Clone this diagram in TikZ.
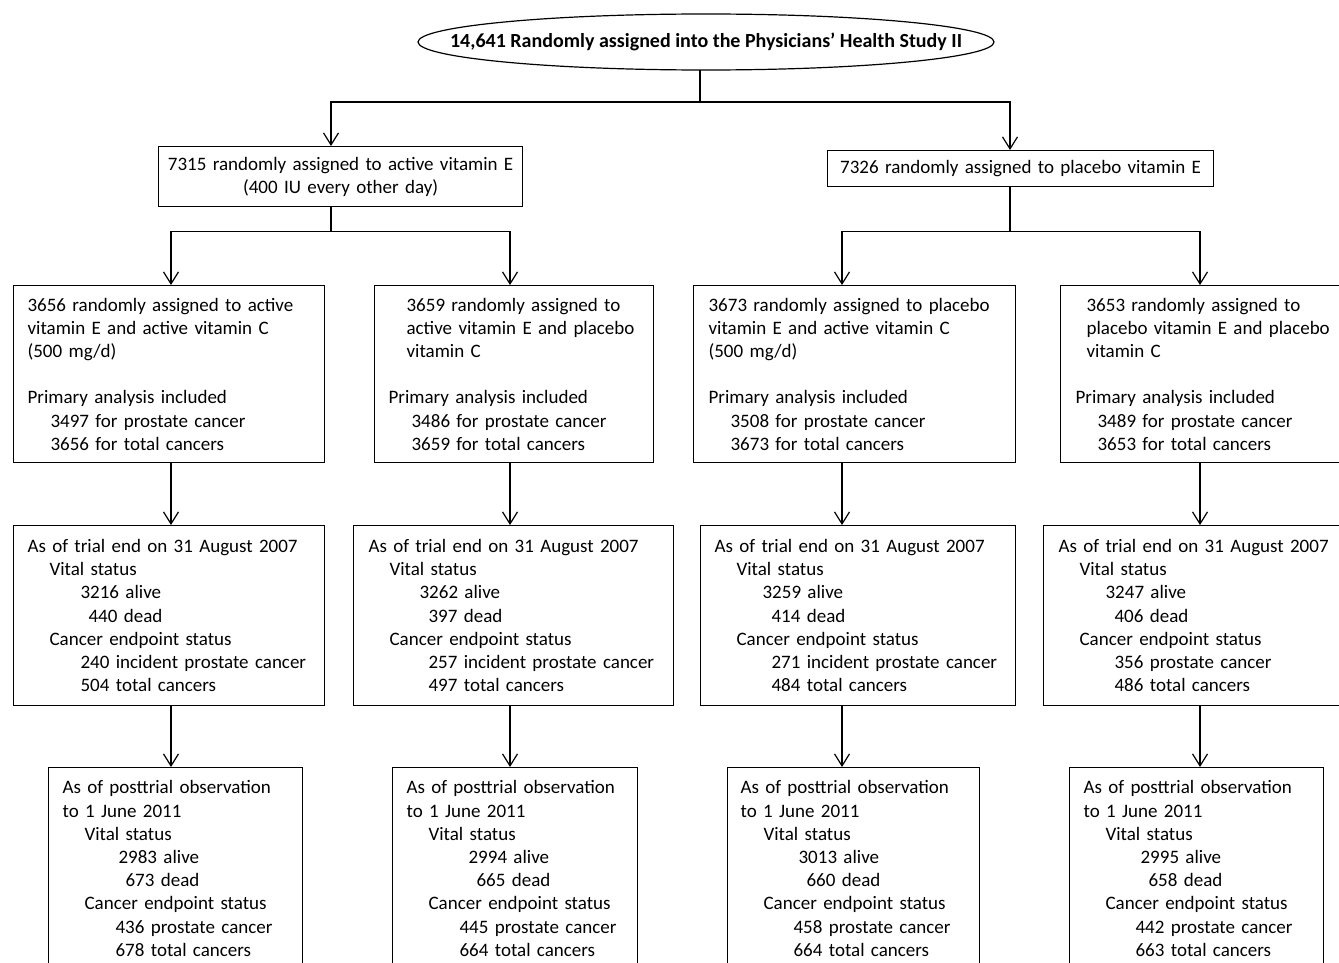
\documentclass[tikz,border=0pt]{standalone}
\usepackage{fontspec}
\setmainfont{Carlito}
\usetikzlibrary{arrows.meta}
\newcommand\indt[1]{\hspace*{#1pt}}

\begin{document}
\begin{tikzpicture}[x=1pt, y=-1pt,
    txt/.style={font=\fontsize{19}{23.2}\selectfont},
    box/.style={txt, draw, line width=1.2pt, inner sep=0pt, anchor=north west, align=left},
    link/.style={line width=1.2pt},
    arr/.style={link, -{Straight Barb[length=12pt, width=15pt]}}]

    \useasboundingbox (0,0) rectangle (1339,963);
    \clip (0,0) rectangle (1339,963);

    % columns of the connectors
    \coordinate (cE) at (331,0);
    \coordinate (cP) at (1010,0);
    \coordinate (c1) at (171,0);
    \coordinate (c2) at (510,0);
    \coordinate (c3) at (842,0);
    \coordinate (c4) at (1200,0);

    \node[txt, font=\fontsize{20}{24}\selectfont\bfseries] (rand) at (706,42) {14,641 Randomly assigned into the Physicians’ Health Study II};
    \draw[link] (rand.center) ellipse [x radius=288, y radius=28];

    \node[box, align=center, text width=364pt, minimum height=60pt] (vitE) at (158,146) {7315 randomly assigned to active vitamin E\\(400 IU every other day)};
    \node[box, align=center, text width=386pt, minimum height=36pt] (placE) at (827,150) {7326 randomly assigned to placebo vitamin E};

    \node[box, text width=311pt, minimum height=177pt] (eC) at (13,285) {\indt{14}3656 randomly assigned to active\\
        \indt{14}vitamin E and active vitamin C\\
        \indt{14}(500 mg/d)\\[23.2pt]
        \indt{14}Primary analysis included\\
        \indt{37}3497 for prostate cancer\\
        \indt{37}3656 for total cancers};
    \node[box, text width=279pt, minimum height=177pt] (eP) at (374,285) {\indt{32}3659 randomly assigned to\\
        \indt{32}active vitamin E and placebo\\
        \indt{32}vitamin C\\[23.2pt]
        \indt{14}Primary analysis included\\
        \indt{37}3486 for prostate cancer\\
        \indt{37}3659 for total cancers};
    \node[box, text width=322pt, minimum height=177pt] (pC) at (693,285) {\indt{15}3673 randomly assigned to placebo\\
        \indt{15}vitamin E and active vitamin C\\
        \indt{15}(500 mg/d)\\[23.2pt]
        \indt{15}Primary analysis included\\
        \indt{37}3508 for prostate cancer\\
        \indt{37}3673 for total cancers};
    \node[box, text width=285pt, minimum height=177pt] (pP) at (1060,285) {\indt{26}3653 randomly assigned to\\
        \indt{26}placebo vitamin E and placebo\\
        \indt{26}vitamin C\\[23.2pt]
        \indt{15}Primary analysis included\\
        \indt{37}3489 for prostate cancer\\
        \indt{37}3653 for total cancers};

    \node[box, text width=311pt, minimum height=180pt] (eCend) at (13,525) {\indt{14}As of trial end on 31 August 2007\\
        \indt{36}Vital status\\
        \indt{67}3216 alive\\
        \indt{75}440 dead\\
        \indt{36}Cancer endpoint status\\
        \indt{67}240 incident prostate cancer\\
        \indt{67}504 total cancers};
    \node[box, text width=320pt, minimum height=180pt] (ePend) at (353,525) {\indt{15}As of trial end on 31 August 2007\\
        \indt{36}Vital status\\
        \indt{66}3262 alive\\
        \indt{75}397 dead\\
        \indt{36}Cancer endpoint status\\
        \indt{75}257 incident prostate cancer\\
        \indt{75}497 total cancers};
    \node[box, text width=315pt, minimum height=180pt] (pCend) at (700,525) {\indt{14}As of trial end on 31 August 2007\\
        \indt{36}Vital status\\
        \indt{62}3259 alive\\
        \indt{71}414 dead\\
        \indt{36}Cancer endpoint status\\
        \indt{71}271 incident prostate cancer\\
        \indt{71}484 total cancers};
    \node[box, text width=302pt, minimum height=180pt] (pPend) at (1043,525) {\indt{15}As of trial end on 31 August 2007\\
        \indt{36}Vital status\\
        \indt{62}3247 alive\\
        \indt{71}406 dead\\
        \indt{36}Cancer endpoint status\\
        \indt{71}356 prostate cancer\\
        \indt{71}486 total cancers};

    \node[box, text width=254pt, minimum height=202pt] (eCpost) at (48,767) {\indt{14}As of posttrial observation\\
        \indt{14}to 1 June 2011\\
        \indt{36}Vital status\\
        \indt{70}2983 alive\\
        \indt{77}673 dead\\
        \indt{36}Cancer endpoint status\\
        \indt{67}436 prostate cancer\\
        \indt{67}678 total cancers};
    \node[box, text width=245pt, minimum height=202pt] (ePpost) at (392,767) {\indt{14}As of posttrial observation\\
        \indt{14}to 1 June 2011\\
        \indt{36}Vital status\\
        \indt{76}2994 alive\\
        \indt{84}665 dead\\
        \indt{36}Cancer endpoint status\\
        \indt{67}445 prostate cancer\\
        \indt{67}664 total cancers};
    \node[box, text width=252pt, minimum height=202pt] (pCpost) at (727,767) {\indt{13}As of posttrial observation\\
        \indt{13}to 1 June 2011\\
        \indt{36}Vital status\\
        \indt{71}3013 alive\\
        \indt{79}660 dead\\
        \indt{36}Cancer endpoint status\\
        \indt{66}458 prostate cancer\\
        \indt{66}664 total cancers};
    \node[box, text width=254pt, minimum height=202pt] (pPpost) at (1069,767) {\indt{14}As of posttrial observation\\
        \indt{14}to 1 June 2011\\
        \indt{36}Vital status\\
        \indt{71}2995 alive\\
        \indt{79}658 dead\\
        \indt{36}Cancer endpoint status\\
        \indt{66}442 prostate cancer\\
        \indt{66}663 total cancers};

    % split into the two vitamin E arms
    \coordinate (stem) at (700,70);
    \draw[link] (stem) -- ++(0,32) coordinate (j0);
    \draw[arr] (j0) -| (vitE.north -| cE);
    \draw[arr] (j0) -| (placE.north -| cP);

    % split into the vitamin C arms
    \draw[link] (vitE.south -| cE) -- ++(0,24) coordinate (jE);
    \draw[arr] (jE) -| (eC.north -| c1);
    \draw[arr] (jE) -| (eP.north -| c2);
    \draw[link] (placE.south -| cP) -- ++(0,44) coordinate (jP);
    \draw[arr] (jP) -| (pC.north -| c3);
    \draw[arr] (jP) -| (pP.north -| c4);

    \draw[arr] (eC.south -| c1) -- (eCend.north -| c1);
    \draw[arr] (eP.south -| c2) -- (ePend.north -| c2);
    \draw[arr] (pC.south -| c3) -- (pCend.north -| c3);
    \draw[arr] (pP.south -| c4) -- (pPend.north -| c4);

    \draw[arr] (eCend.south -| c1) -- (eCpost.north -| c1);
    \draw[arr] (ePend.south -| c2) -- (ePpost.north -| c2);
    \draw[arr] (pCend.south -| c3) -- (pCpost.north -| c3);
    \draw[arr] (pPend.south -| c4) -- (pPpost.north -| c4);

\end{tikzpicture}
\end{document}
